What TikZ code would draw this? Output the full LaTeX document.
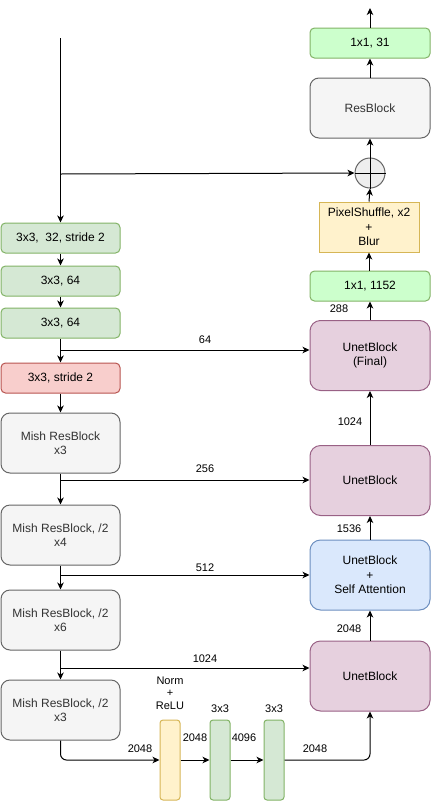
\documentclass[tikz,border=0pt]{standalone}
\usepackage{fontspec}
\setmainfont{Liberation Sans}
\usetikzlibrary{arrows.meta}
\definecolor{gfill}{HTML}{D5E8D4}\definecolor{gline}{HTML}{82B366}
\definecolor{lgfill}{HTML}{CCFFCC}
\definecolor{rfill}{HTML}{F8CECC}\definecolor{rline}{HTML}{B85450}
\definecolor{greyfill}{HTML}{F5F5F5}\definecolor{greyline}{HTML}{666666}\definecolor{greytext}{HTML}{333333}
\definecolor{circfill}{HTML}{EEEEEE}
\definecolor{pfill}{HTML}{E6D0DE}\definecolor{pline}{HTML}{996185}
\definecolor{bfill}{HTML}{DAE8FC}\definecolor{bline}{HTML}{6C8EBF}
\definecolor{yfill}{HTML}{FFF2CC}\definecolor{yline}{HTML}{D6B656}
\begin{document}
\begin{tikzpicture}[x=1pt,y=-1pt,
  box/.style={draw, line width=1pt, align=center, inner sep=0pt, font=\fontsize{12}{14.4}\selectfont},
  small/.style={box, minimum width=119pt, minimum height=30pt, rounded corners=4.5pt},
  tall/.style={box, minimum width=119pt, minimum height=60pt, rounded corners=9pt},
  unet/.style={box, minimum width=120pt, minimum height=70pt, rounded corners=10.5pt},
  bar/.style={box, minimum width=20pt, minimum height=80pt, rounded corners=3pt},
  greenbox/.style={fill=gfill, draw=gline},
  lightgreen/.style={fill=lgfill, draw=gline},
  redbox/.style={fill=rfill, draw=rline},
  greybox/.style={fill=greyfill, draw=greyline, text=greytext},
  purplebox/.style={fill=pfill, draw=pline},
  bluebox/.style={fill=bfill, draw=bline},
  yellowbox/.style={fill=yfill, draw=yline},
  lbl/.style={inner sep=0pt, align=center, font=\fontsize{11}{12.5}\selectfont},
  arr/.style={-{Stealth[length=7pt,width=6.5pt,inset=2pt]}, line width=1pt},
  ln/.style={line width=1pt}]
\useasboundingbox (0,0) rectangle (431,801);

% left column
\coordinate (start) at (60.5,38);
\node[small, greenbox] (c1) at (60.5,238) {3x3,\ \ 32, stride 2};
\node[small, greenbox] (c2) at (60.5,281) {3x3, 64};
\node[small, greenbox] (c3) at (60.5,323) {3x3, 64};
\node[small, redbox] (c4) at (60.5,378) {3x3, stride 2};
\node[tall, greybox] (m1) at (60.5,443) {Mish ResBlock\\x3};
\node[tall, greybox] (m2) at (60.5,535) {Mish ResBlock, /2\\x4};
\node[tall, greybox] (m3) at (60.5,620) {Mish ResBlock, /2\\x6};
\node[tall, greybox] (m4) at (60.5,710) {Mish ResBlock, /2\\x3};

% right column
\coordinate (top) at (370,8);
\node[small, lightgreen, minimum width=120pt] (o31) at (370,43) {1x1, 31};
\node[tall, greybox, minimum width=120pt] (res) at (370,108) {ResBlock};
\node[circle, draw=greyline, fill=circfill, line width=1pt, minimum size=30pt, inner sep=0pt] (add) at (370,173) {};
\node[box, yellowbox, minimum width=100pt, minimum height=50pt] (ps) at (369,227) {PixelShuffle, x2\\+\\Blur};
\node[small, lightgreen, minimum width=120pt] (o1152) at (370,286) {1x1, 1152};
\node[unet, purplebox] (u1) at (370,355.5) {UnetBlock\\(Final)};
\node[unet, purplebox] (u2) at (370,480.5) {UnetBlock};
\node[unet, bluebox] (u3) at (370,575) {UnetBlock\\+\\Self Attention};
\node[unet, purplebox] (u4) at (370,676) {UnetBlock};

% bottom bars
\node[bar, yellowbox] (nr) at (170,760) {};
\node[bar, greenbox] (g1) at (220,760) {};
\node[bar, greenbox] (g2) at (274,760) {};

% plus sign in circle
\draw[ln] (add.west) -- (add.east);

% left chain
\draw[arr] (start) -- (c1);
\draw[arr] (c1) -- (c2);
\draw[arr] (c2) -- (c3);
\draw[arr] (c3) -- (c4);
\draw[arr] (c4) -- (m1);
\draw[arr] (m1) -- (m2);
\draw[arr] (m2) -- (m3);
\draw[arr] (m3) -- (m4);

% branch to add
\coordinate (b0) at (60.5,174);
\draw[arr] (b0) -- (add.west);

% skips
\coordinate (s1) at (60.5,350);
\coordinate (s2) at (60.5,480);
\coordinate (s3) at (60.5,575);
\coordinate (s4) at (60.5,668);
\draw[arr] (s1) -- (s1 -| u1.west);
\draw[arr] (s2) -- (s2 -| u2.west);
\draw[arr] (s3) -- (s3 -| u3.west);
\draw[arr] (s4) -- (s4 -| u4.west);
\node[lbl] at (205,340) {64};
\node[lbl] at (205,469) {256};
\node[lbl] at (205,568) {512};
\node[lbl] at (205,659) {1024};

% right chain
\draw[arr] (u4) -- (u3);
\draw[arr] (u3) -- (u2);
\draw[arr] (u2) -- (u1);
\draw[arr] (u1) -- (o1152);
\draw[arr] (o1152.north -| ps.north) -- (ps.south);
\draw[arr] (ps.north) -- (add.south);
\draw[ln] (add.south) -- (add.north);
\draw[arr] (add.north) -- (add.north |- res.south);
\draw[arr] (res.north) -- (res.north |- o31.south);
\draw[arr] (o31.north) -- (top);
\node[lbl] at (339,309) {288};
\node[lbl] at (350,422) {1024};
\node[lbl] at (349,529) {1536};
\node[lbl] at (349,629) {2048};

% bottom path
\draw[arr, rounded corners=6pt] (m4.south) |- (nr.west);
\draw[arr] (nr.east) -- (g1.west);
\draw[arr] (g1.east) -- (g2.west);
\draw[arr, rounded corners=6pt] (g2.east) -| (u4.south);
\node[lbl] at (170,693) {Norm\\+\\ReLU};
\node[lbl] at (220,709) {3x3};
\node[lbl] at (274,709) {3x3};
\node[lbl] at (140,749) {2048};
\node[lbl] at (195,738) {2048};
\node[lbl] at (244,738) {4096};
\node[lbl] at (315,749) {2048};
\end{tikzpicture}
\end{document}
